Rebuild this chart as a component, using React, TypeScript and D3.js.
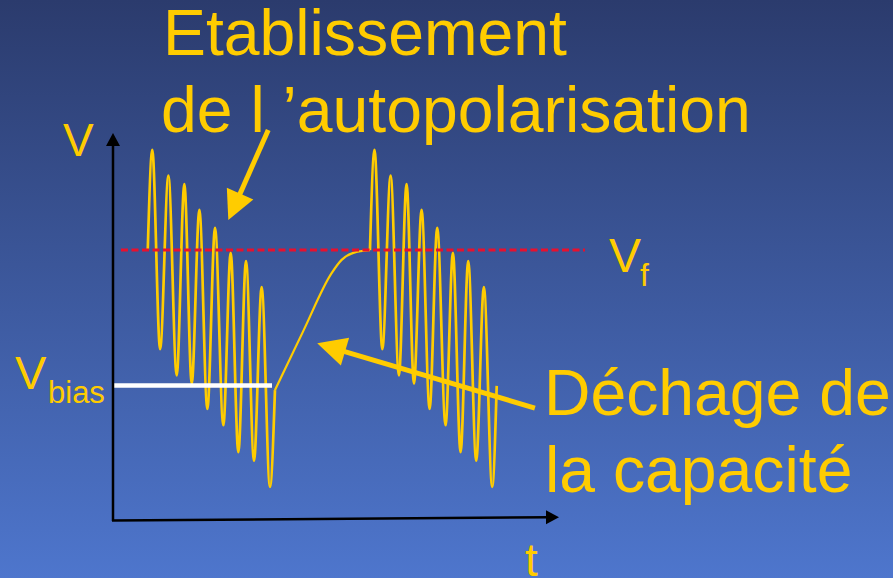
import React from "react";
import * as d3 from "d3";

const W = 893;
const H = 578;

// Time (cycles) and voltage (arbitrary units)
const burstStarts = [2.22, 16.42];
const burstStartV = 6.92;
const peakOffsets = [0.29, 1.32, 2.34, 3.3, 4.3, 5.3, 6.28, 7.28];
const peakV = [9.49, 8.83, 8.61, 7.95, 7.49, 6.85, 6.64, 5.97];
const troughOffsets = [0.79, 1.85, 2.81, 3.81, 4.83, 5.79, 6.79, 7.81];
const troughV = [4.38, 3.71, 3.5, 2.85, 2.43, 1.74, 1.52, 0.85];
const burstEndOffsets = [8.13, 8.1];
const burstEndV = [3.33, 3.44];

const rampT = [10.35, 12.14, 13.97, 14.61, 15.36, 16.42];
const rampV = [3.33, 4.83, 6.33, 6.67, 6.85, 6.92];

const vfLevel = 6.92;
const vfRange = [0.51, 30.16];
const vbiasLevel = 3.45;
const vbiasRange = [0.06, 10.16];

const axisTMax = 28.5;
const axisVMax = 10;
const axisEndTilt = 0.07;

const arrowTop = { from: [9.92, 10.0], to: [7.37, 7.69] };
const arrowBottom = { from: [26.96, 2.87], to: [13.05, 4.53] };

const xScale = d3.scaleLinear().domain([0, axisTMax]).range([113, 559]);
const yScale = d3.scaleLinear().domain([0, axisVMax]).range([520, 130]);

const GOLD = "#FFCC00";

function burstPoints(i: number): [number, number][] {
  const t0 = burstStarts[i];
  const pts: [number, number][] = [[t0, burstStartV]];
  peakOffsets.forEach((p, k) => {
    pts.push([t0 + p, peakV[k]]);
    pts.push([t0 + troughOffsets[k], troughV[k]]);
  });
  pts.push([t0 + burstEndOffsets[i], burstEndV[i]]);
  return pts;
}

const line = d3
  .line<[number, number]>()
  .x((d) => xScale(d[0]))
  .y((d) => yScale(d[1]))
  .curve(d3.curveMonotoneX);

function Arrow({ from, to }: { from: number[]; to: number[] }) {
  const x1 = xScale(from[0]);
  const y1 = yScale(from[1]);
  const x2 = xScale(to[0]);
  const y2 = yScale(to[1]);
  const L = Math.hypot(x2 - x1, y2 - y1);
  const ux = (x2 - x1) / L;
  const uy = (y2 - y1) / L;
  const hl = 29;
  const hw = 14.5;
  const bx = x2 - ux * hl;
  const by = y2 - uy * hl;
  const pts = [
    [x2, y2],
    [bx - uy * hw, by + ux * hw],
    [bx + uy * hw, by - ux * hw],
  ]
    .map((p) => p.join(","))
    .join(" ");
  return (
    <g>
      <line x1={x1} y1={y1} x2={bx + ux * 2} y2={by + uy * 2} stroke={GOLD} strokeWidth={5} />
      <polygon points={pts} fill={GOLD} />
    </g>
  );
}

export default function App() {
  const rampPts: [number, number][] = rampT.map((t, i) => [t, rampV[i]]);
  const x0 = xScale(0);
  const y0 = yScale(0);
  const xEnd = xScale(axisTMax);
  const yEnd = yScale(axisEndTilt);
  const yTop = yScale(axisVMax) + 3;
  const font = "'Liberation Sans', Arial, sans-serif";
  return (
    <svg
      width={W}
      height={H}
      style={{ position: "absolute", left: 0, top: 0, display: "block" }}
      fontFamily={font}
    >
      <defs>
        <linearGradient id="bg" x1="0" y1="0" x2="0" y2="1">
          <stop offset="0" stopColor="#2b3b6d" />
          <stop offset="1" stopColor="#4e76cd" />
        </linearGradient>
      </defs>
      <rect x={0} y={0} width={W} height={H} fill="url(#bg)" />

      {/* waveform */}
      {burstStarts.map((_, i) => (
        <path key={i} d={line(burstPoints(i)) || ""} fill="none" stroke={GOLD} strokeWidth={2.7} strokeLinejoin="round" />
      ))}
      <path d={line(rampPts) || ""} fill="none" stroke={GOLD} strokeWidth={2.2} />

      {/* Vf dashed line */}
      <line
        x1={xScale(vfRange[0])}
        x2={xScale(vfRange[1])}
        y1={yScale(vfLevel)}
        y2={yScale(vfLevel)}
        stroke="#e8102e"
        strokeWidth={3}
        strokeDasharray="7 3.5"
      />
      {/* Vbias line */}
      <line
        x1={xScale(vbiasRange[0])}
        x2={xScale(vbiasRange[1])}
        y1={yScale(vbiasLevel)}
        y2={yScale(vbiasLevel)}
        stroke="#ffffff"
        strokeWidth={4.5}
      />

      {/* axes */}
      <line x1={x0} y1={y0 + 1} x2={x0} y2={yTop + 10} stroke="#000" strokeWidth={2.5} />
      <polygon points={`${x0},${yTop} ${x0 - 7},${yTop + 13} ${x0 + 7},${yTop + 13}`} fill="#000" />
      <line x1={x0 - 1} y1={y0 + 0.5} x2={xEnd - 10} y2={yEnd} stroke="#000" strokeWidth={2.5} />
      <polygon points={`${xEnd},${yEnd} ${xEnd - 13},${yEnd - 7} ${xEnd - 13},${yEnd + 7}`} fill="#000" />

      {/* arrows */}
      <Arrow from={arrowTop.from} to={arrowTop.to} />
      <Arrow from={arrowBottom.from} to={arrowBottom.to} />

      {/* text */}
      <g fill={GOLD}>
        <text x={163} y={55} fontSize={64.3}>Etablissement</text>
        <text x={161} y={131.5} fontSize={64.3}>de l ’autopolarisation</text>
        <text x={544} y={415} fontSize={64.3}>Déchage de</text>
        <text x={545} y={491.5} fontSize={64.3}>la capacité</text>
        <text x={63} y={156} fontSize={46}>V</text>
        <text x={15} y={389} fontSize={47}>V</text>
        <text x={48} y={402.5} fontSize={31}>bias</text>
        <text x={609} y={271.5} fontSize={48}>V</text>
        <text x={640} y={285.5} fontSize={32}>f</text>
        <text x={525} y={576} fontSize={46}>t</text>
      </g>
    </svg>
  );
}
